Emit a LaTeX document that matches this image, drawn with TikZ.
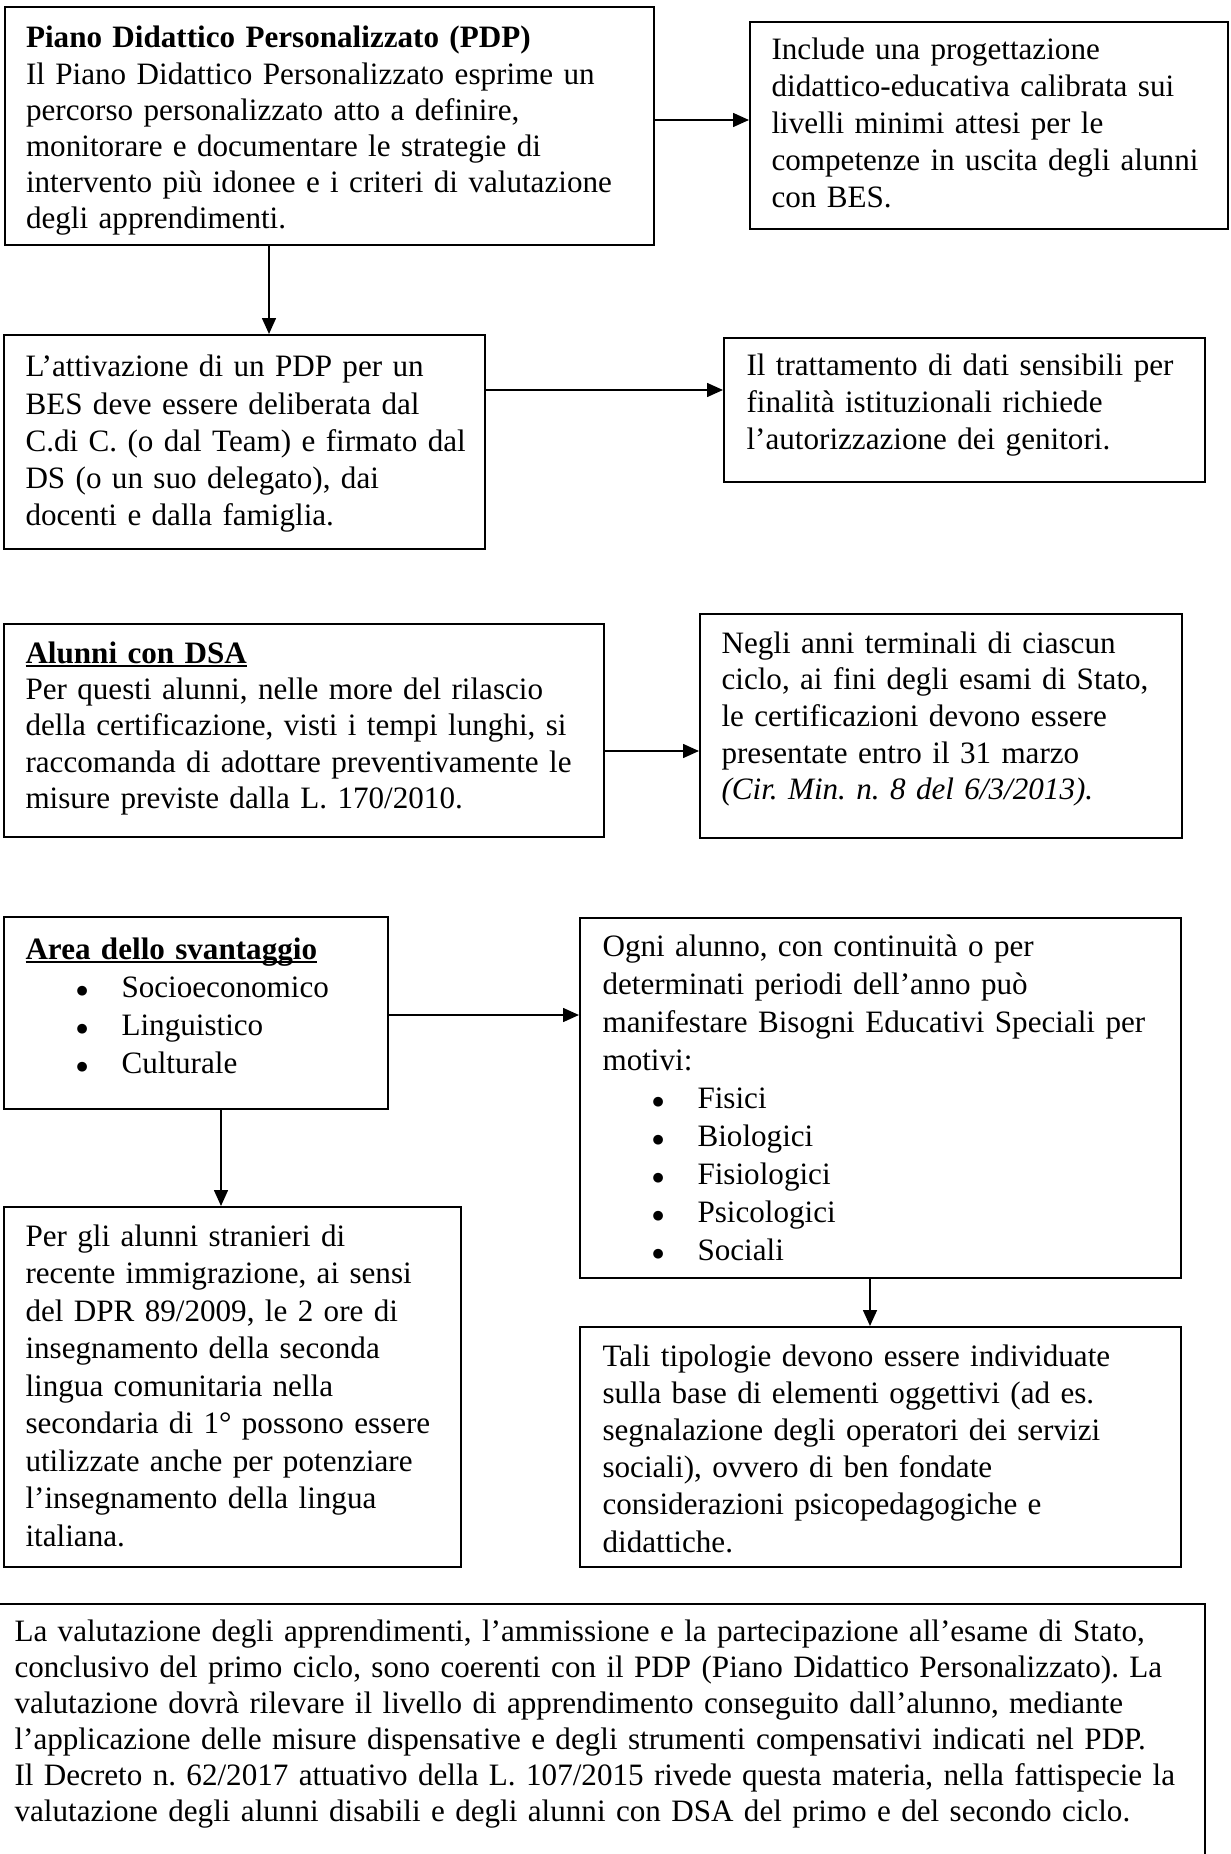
\documentclass[tikz,border=0pt]{standalone}
\usepackage{fontspec}
\setmainfont{Liberation Serif}
\newfontfamily\dejavu{DejaVu Sans}
\usetikzlibrary{arrows.meta,fit}
\newdimen\pxu \pxu=0.376pt
\newcommand\fsz[1]{\fontsize{11.7pt}{#1pt}\selectfont\frenchspacing}
\newcommand\myul[1]{\setbox0\hbox{#1}\rlap{\rule[-1.6pt]{\wd0}{0.85pt}}\box0}
\newcommand\bdot{\raisebox{1.1pt}{\dejavu\fontsize{4.8pt}{4.8pt}\selectfont ●}}
\newcommand\bul[2]{\hspace*{#1\pxu}\makebox[45\pxu][l]{\bdot}#2}
\begin{document}
\begin{tikzpicture}[x=0.376pt,y=-0.376pt,
  box/.style={draw,line width=0.75pt,inner sep=0pt},
  txt/.style={anchor=base west,inner sep=0pt,align=left,text width=#1\pxu},
  arr/.style={line width=0.75pt,-{Triangle[length=6pt,width=5.2pt]}}]
\useasboundingbox (0,0) rectangle (1230,1854);
% boxes
\node[box,fit={(5,7) (654,245)}] (b1) {};
\node[box,fit={(750,22) (1228,229)}] (b2) {};
\node[box,fit={(4,335) (485,549)}] (b3) {};
\node[box,fit={(724,338) (1205,482)}] (b4) {};
\node[box,fit={(4,624) (604,837)}] (b5) {};
\node[box,fit={(700,614) (1182,838)}] (b6) {};
\node[box,fit={(4,917) (388,1109)}] (b7) {};
\node[box,fit={(580,918) (1181,1278)}] (b8) {};
\node[box,fit={(4,1207) (461,1567)}] (b9) {};
\node[box,fit={(580,1327) (1181,1567)}] (b10) {};
\node[box,fit={(-10,1604) (1205,1880)}] (b11) {};
% texts
\node[txt=620,font=\fsz{13.6}] (t1) at (25.5,48) {\textbf{Piano Didattico Personalizzato (PDP)}\\
Il Piano Didattico Personalizzato esprime un\\
percorso personalizzato atto a definire,\\
monitorare e documentare le strategie di\\
intervento più idonee e i criteri di valutazione\\
degli apprendimenti.};
\node[txt=455,font=\fsz{13.9}] (t2) at (771,60) {Include una progettazione\\
didattico-educativa calibrata sui\\
livelli minimi attesi per le\\
competenze in uscita degli alunni\\
con BES.};
\node[txt=455,font=\fsz{14.0}] (t3) at (25,377) {L’attivazione di un PDP per un\\
BES deve essere deliberata dal\\
C.di C. (o dal Team) e firmato dal\\
DS (o un suo delegato), dai\\
docenti e dalla famiglia.};
\node[txt=455,font=\fsz{13.8}] (t4) at (746,376) {Il trattamento di dati sensibili per\\
finalità istituzionali richiede\\
l’autorizzazione dei genitori.};
\node[txt=575,font=\fsz{13.7}] (t5) at (25,663) {\textbf{\myul{Alunni con DSA}}\\
Per questi alunni, nelle more del rilascio\\
della certificazione, visti i tempi lunghi, si\\
raccomanda di adottare preventivamente le\\
misure previste dalla L. 170/2010.};
\node[txt=455,font=\fsz{13.8}] (t6) at (721,653) {Negli anni terminali di ciascun\\
ciclo, ai fini degli esami di Stato,\\
le certificazioni devono essere\\
presentate entro il 31 marzo\\
\textit{(Cir. Min. n. 8 del 6/3/2013).}};
\node[txt=360,font=\fsz{14.4}] (t7) at (25,959) {\textbf{\myul{Area dello svantaggio}}\\
\bul{51}{Socioeconomico}\\
\bul{51}{Linguistico}\\
\bul{51}{Culturale}};
\node[txt=575,font=\fsz{14.3}] (t8) at (602,956) {Ogni alunno, con continuità o per\\
determinati periodi dell’anno può\\
manifestare Bisogni Educativi Speciali per\\
motivi:\\
\bul{50}{Fisici}\\
\bul{50}{Biologici}\\
\bul{50}{Fisiologici}\\
\bul{50}{Psicologici}\\
\bul{50}{Sociali}};
\node[txt=430,font=\fsz{14.1}] (t9) at (25,1246) {Per gli alunni stranieri di\\
recente immigrazione, ai sensi\\
del DPR 89/2009, le 2 ore di\\
insegnamento della seconda\\
lingua comunitaria nella\\
secondaria di 1° possono essere\\
utilizzate anche per potenziare\\
l’insegnamento della lingua\\
italiana.};
\node[txt=575,font=\fsz{14.0}] (t10) at (602,1366) {Tali tipologie devono essere individuate\\
sulla base di elementi oggettivi (ad es.\\
segnalazione degli operatori dei servizi\\
sociali), ovvero di ben fondate\\
considerazioni psicopedagogiche e\\
didattiche.};
\node[txt=1185,font=\fsz{13.6}] (t11) at (14,1641) {La valutazione degli apprendimenti, l’ammissione e la partecipazione all’esame di Stato,\\
conclusivo del primo ciclo, sono coerenti con il PDP (Piano Didattico Personalizzato). La\\
valutazione dovrà rilevare il livello di apprendimento conseguito dall’alunno, mediante\\
l’applicazione delle misure dispensative e degli strumenti compensativi indicati nel PDP.\\
Il Decreto n. 62/2017 attuativo della L. 107/2015 rivede questa materia, nella fattispecie la\\
valutazione degli alunni disabili e degli alunni con DSA del primo e del secondo ciclo.};
% connector guides
\coordinate (y1) at (0,120);
\coordinate (x2) at (269,0);
\coordinate (y3) at (0,390);
\coordinate (y4) at (0,751);
\coordinate (y5) at (0,1015);
\coordinate (x6) at (221,0);
\coordinate (x7) at (870,0);
% connectors
\draw[arr] (b1.east |- y1) -- (b2.west |- y1);
\draw[arr] (b1.south -| x2) -- (b3.north -| x2);
\draw[arr] (b3.east |- y3) -- (b4.west |- y3);
\draw[arr] (b5.east |- y4) -- (b6.west |- y4);
\draw[arr] (b7.east |- y5) -- (b8.west |- y5);
\draw[arr] (b7.south -| x6) -- (b9.north -| x6);
\draw[arr] (b8.south -| x7) -- (b10.north -| x7);
\end{tikzpicture}
\end{document}
